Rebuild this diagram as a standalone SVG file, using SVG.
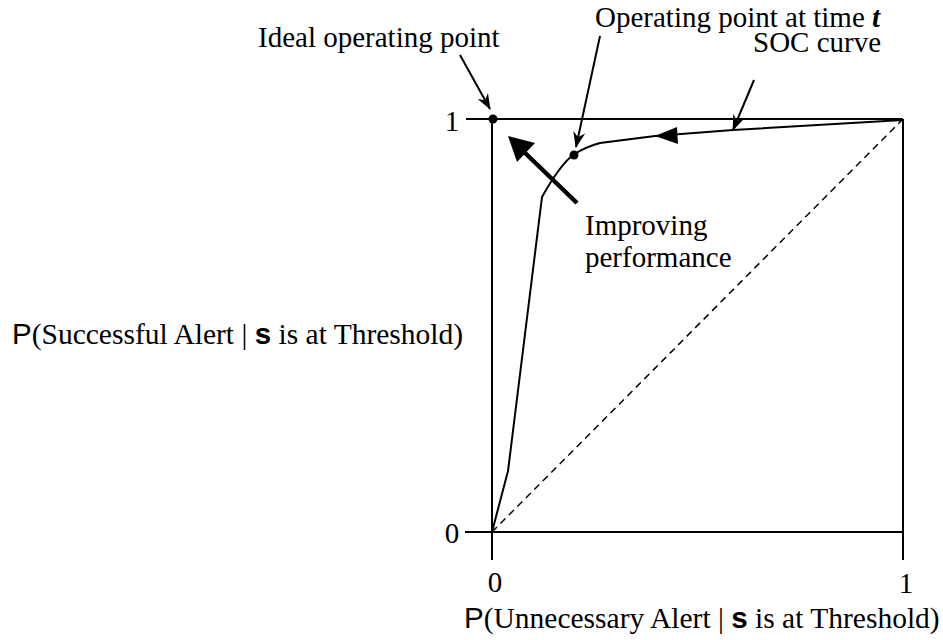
<svg xmlns="http://www.w3.org/2000/svg" width="943" height="640" viewBox="0 0 943 640">
<style>
.t{font-family:"Liberation Serif","Times New Roman",serif;font-size:29px;fill:#000}
.ax{font-size:29.5px}
.sans{font-family:"Liberation Sans",Arial,sans-serif}
.b{font-weight:bold}
.ln{stroke:#000;stroke-width:2;fill:none}
.dash{stroke:#000;stroke-width:1.5;fill:none;stroke-dasharray:7,5}
.ptr{stroke:#000;stroke-width:2;fill:none;marker-end:url(#pa)}
</style>
<defs>
<marker id="pa" viewBox="0 0 16 12" refX="15" refY="6" markerWidth="16" markerHeight="12" markerUnits="userSpaceOnUse" orient="auto">
<path d="M0,0 L16,6 L0,12 L5,6 Z" fill="#000"/>
</marker>
</defs>
<rect width="943" height="640" fill="#fff"/>
<g id="axes">
<line class="ln" x1="492" y1="119" x2="903" y2="119"/>
<line class="ln" x1="492" y1="532" x2="903" y2="532"/>
<line class="ln" x1="492" y1="119" x2="492" y2="560"/>
<line class="ln" x1="903" y1="119" x2="903" y2="560"/>
<line class="ln" x1="466" y1="119" x2="492" y2="119"/>
<line class="ln" x1="465" y1="532" x2="492" y2="532"/>
<line class="dash" x1="492" y1="532" x2="903" y2="119"/>
<text class="t" x="452" y="131" text-anchor="middle">1</text>
<text class="t" x="452" y="543" text-anchor="middle">0</text>
<text class="t" x="495" y="592" text-anchor="middle">0</text>
<text class="t" x="906" y="593" text-anchor="middle">1</text>
<text class="t ax" x="12" y="344"><tspan class="sans">P</tspan>(Successful Alert | <tspan class="sans b">s</tspan> is at Threshold)</text>
<text class="t ax" x="464" y="628"><tspan class="sans">P</tspan>(Unnecessary Alert | <tspan class="sans b">s</tspan> is at Threshold)</text>
</g>
<g id="soc-curve">
<path class="ln" d="M903,120 L733,130 L655,136 L600,143 Q585,147 573,155 Q560,165 542,197 L508,471 L492,532"/>
<path d="M655,136 L677,127 L678,144 Z" fill="#000"/>
</g>
<g id="ideal-point">
<circle cx="493" cy="119" r="4.5" fill="#000"/>
<text class="t" x="258" y="47">Ideal operating point</text>
</g>
<g id="operating-point">
<circle cx="574" cy="155" r="4.5" fill="#000"/>
<text class="t" x="595" y="27">Operating point at time <tspan class="b" font-style="italic">t</tspan></text>
</g>
<g id="soc-label">
<text class="t" x="753" y="52">SOC curve</text>
</g>
<g id="improving">
<text class="t" x="585" y="235">Improving</text>
<text class="t" x="585" y="267">performance</text>
</g>
<g id="connectors">
<line class="ptr" x1="460" y1="55" x2="490" y2="109"/>
<line class="ptr" x1="600" y1="36" x2="576" y2="147"/>
<line class="ptr" x1="754" y1="80" x2="733" y2="130"/>
<line x1="577" y1="203" x2="522" y2="150" stroke="#000" stroke-width="4.5"/>
<path d="M508,136 L535,143 L517,162 Z" fill="#000"/>
</g>
</svg>
